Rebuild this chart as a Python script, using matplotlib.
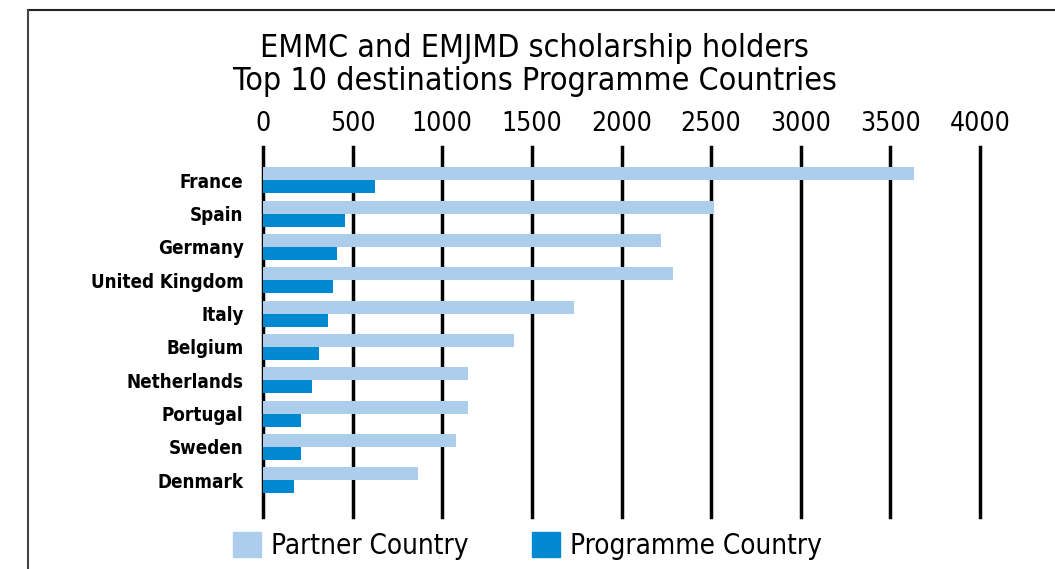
import matplotlib.pyplot as plt
import numpy as np
from matplotlib.lines import Line2D
from matplotlib.patches import Patch

# data
countries = ["France", "Spain", "Germany", "United Kingdom", "Italy",
             "Belgium", "Netherlands", "Portugal", "Sweden", "Denmark"]
partner = [3630, 2515, 2222, 2290, 1737, 1400, 1144, 1144, 1077, 865]
programme = [625, 458, 414, 391, 361, 314, 274, 212, 212, 174]
xticks = [0, 500, 1000, 1500, 2000, 2500, 3000, 3500, 4000]

light = "#ACCEEC"
dark = "#0088D0"

plt.rcParams['font.family'] = ['DejaVu Sans']
plt.rcParams['font.stretch'] = 'condensed'

fig = plt.figure(figsize=(10.55, 5.69), dpi=100)
ax = fig.add_axes([0.2493, 0.0914, 0.6796, 0.6503])

y = np.arange(len(countries))
h = 0.39
ax.barh(y - h / 2, partner, height=h, color=light, zorder=1)
ax.barh(y + h / 2, programme, height=h, color=dark, zorder=1)

ax.set_xlim(0, 4000)
ax.set_ylim(10.1, -1.0)
ax.set_xticks(xticks)
ax.xaxis.tick_top()
ax.tick_params(axis='x', length=0, pad=7, labelsize=19)
ax.set_yticks(y)
ax.set_yticklabels(countries, fontsize=13.5, fontweight='bold')
ax.tick_params(axis='y', length=0, pad=14)
ax.grid(axis='x', color='black', linewidth=2.5, zorder=0)
for gl in ax.get_xgridlines():
    gl.set_clip_on(False)
ax.set_axisbelow(True)
for s in ax.spines.values():
    s.set_visible(False)

fig.text(0.507, 1 - 65 / 569,
         "EMMC and EMJMD scholarship holders\nTop 10 destinations Programme Countries",
         ha='center', va='center', fontsize=23, linespacing=1.1)

handles = [Patch(color=light, label="Partner Country"),
           Patch(color=dark, label="Programme Country")]
fig.legend(handles=handles, loc='center', bbox_to_anchor=(0.5, 0.04), ncol=2,
           frameon=False, fontsize=20, handlelength=1.0, handleheight=1.0,
           handletextpad=0.35, columnspacing=2.3)

# frame lines (top and left)
fig.add_artist(Line2D([28 / 1055, 1], [1 - 10 / 569, 1 - 10 / 569],
                      color='#222222', linewidth=1.5, transform=fig.transFigure))
fig.add_artist(Line2D([28 / 1055, 28 / 1055], [0, 1 - 10 / 569],
                      color='#444444', linewidth=1.5, transform=fig.transFigure))

plt.savefig("out.png", dpi=100)
